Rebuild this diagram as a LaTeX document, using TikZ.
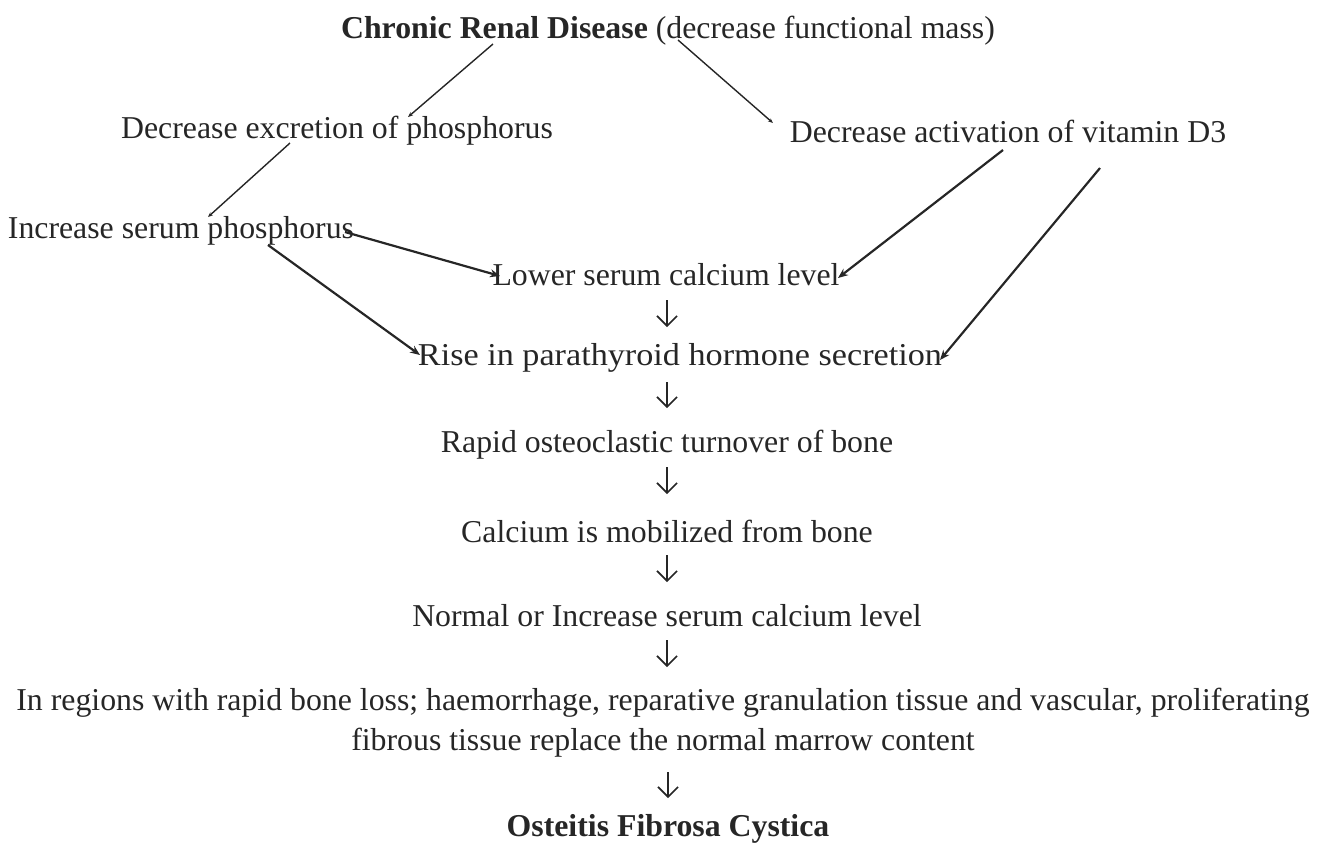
\documentclass[tikz,border=0pt]{standalone}
\usepackage{fontspec}
\setmainfont{Liberation Serif}
\usetikzlibrary{arrows.meta}
\begin{document}
\begin{tikzpicture}[x=0.5pt,y=-0.5pt,
  txt/.style={inner sep=0pt,text=black!85,font=\fontsize{15.9}{20}\selectfont},
  thin arr/.style={draw=black!85,line width=0.7pt,-{Stealth[length=2.5pt,width=2pt]}},
  thick arr/.style={draw=black!85,line width=1.1pt,-{Stealth[length=5pt,width=4pt]}},
  dn/.style={draw=black!85,line width=0.8pt,-{Straight Barb[length=5pt,width=10pt]}}]
\useasboundingbox (0,0) rectangle (1317,843);
\node[txt] (t) at (668,31) {\textbf{Chronic Renal Disease} (decrease functional mass)};
\node[txt] (de) at (337,131) {Decrease excretion of phosphorus};
\node[txt] (da) at (1008,131) {Decrease activation of vitamin D3};
\node[txt] (is) at (181,231) {Increase serum phosphorus};
\node[txt] (ls) at (666,275) {Lower serum calcium level};
\node[txt] (rp) at (680,358) {\scalebox{1.075}[1]{Rise in parathyroid hormone secretion}};
\node[txt] (ro) at (667,445) {Rapid osteoclastic turnover of bone};
\node[txt] (cm) at (667,531) {Calcium is mobilized from bone};
\node[txt] (nc) at (667,616) {Normal or Increase serum calcium level};
\node[txt,align=center,font=\fontsize{15.9}{20}\selectfont] (rg) at (663,723) {In regions with rapid bone loss; haemorrhage, reparative granulation tissue and vascular, proliferating\\fibrous tissue replace the normal marrow content};
\node[txt] (of) at (668,829) {\textbf{Osteitis Fibrosa Cystica}};
\draw[thin arr] ([shift={(-175,13)}]t.center) -- ([shift={(71,-14)}]de.center);
\draw[thin arr] ([shift={(10,9)}]t.center) -- ([shift={(-235,-8)}]da.center);
\draw[thin arr] ([shift={(-47,12)}]de.center) -- ([shift={(27,-14)}]is.center);
\draw[thick arr] ([shift={(164,1)}]is.center) -- ([shift={(-166,1)}]ls.center);
\draw[thick arr] ([shift={(87,14)}]is.center) -- ([shift={(-260,-3)}]rp.center);
\draw[thick arr] ([shift={(-5,19)}]da.center) -- ([shift={(172,3)}]ls.center);
\draw[thick arr] ([shift={(92,37)}]da.center) -- ([shift={(260,2)}]rp.center);
\draw[dn] ([shift={(1,25)}]ls.center) -- ([shift={(-13,-31)}]rp.center);
\draw[dn] ([shift={(-13,24)}]rp.center) -- ([shift={(0,-37)}]ro.center);
\draw[dn] ([shift={(0,22)}]ro.center) -- ([shift={(0,-37)}]cm.center);
\draw[dn] ([shift={(0,24)}]cm.center) -- ([shift={(0,-34)}]nc.center);
\draw[dn] ([shift={(0,24)}]nc.center) -- ([shift={(4,-56)}]rg.center);
\draw[dn] ([shift={(5,49)}]rg.center) -- ([shift={(0,-31)}]of.center);
\end{tikzpicture}
\end{document}
